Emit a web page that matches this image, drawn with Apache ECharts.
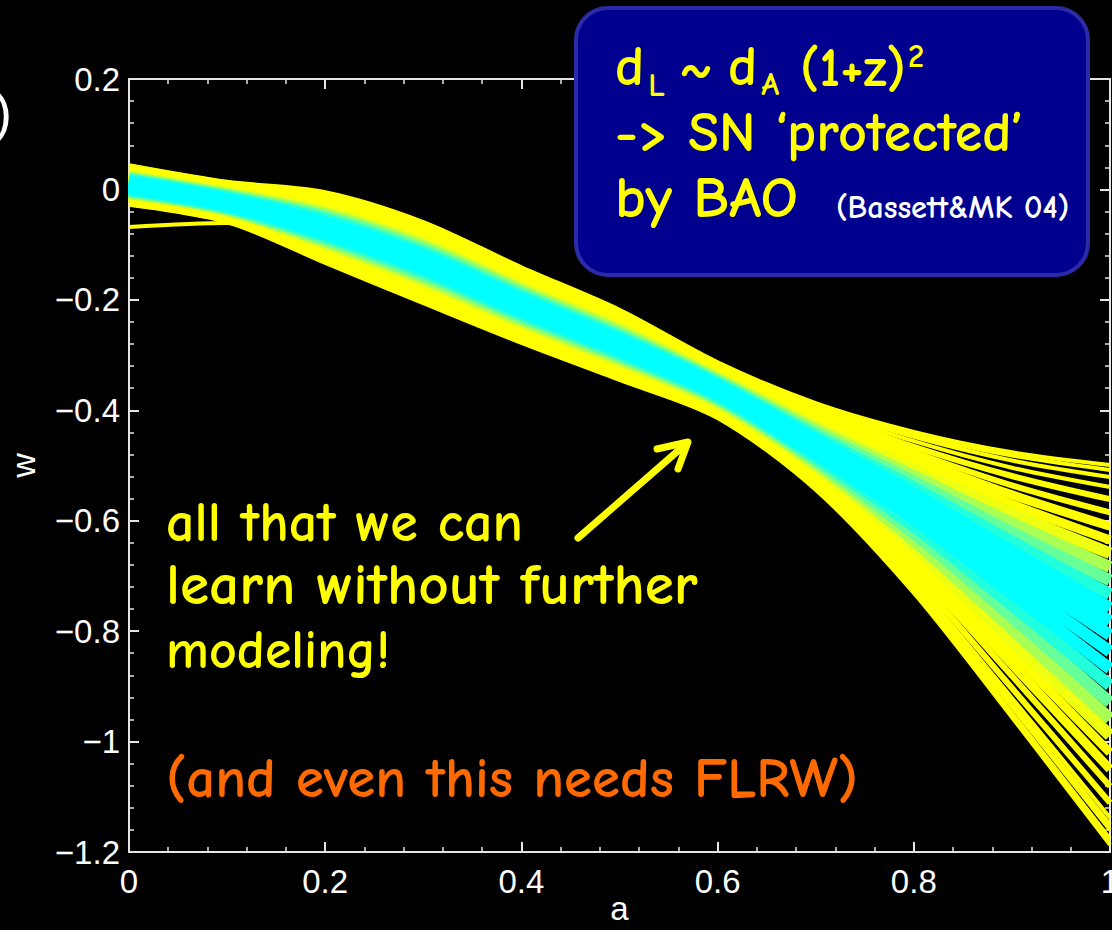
<!DOCTYPE html>
<html>
<head>
<meta charset="utf-8">
<script src="https://cdn.jsdelivr.net/npm/echarts@6/dist/echarts.min.js"></script>
<style>
html,body{margin:0;padding:0;background:#000;overflow:hidden;}
#chart{width:1112px;height:930px;}
</style>
</head>
<body>
<div id="chart"></div>
<script>
// ---------------- data ----------------
const aGrid = [0, 0.1, 0.2, 0.3, 0.4, 0.5, 0.6, 0.7, 0.8, 0.9, 1.0];

// distance of each reconstruction from the best fit (0 = best, 1 = worst) -> colour
const curveRank = [
  1.00, 0.97, 0.93, 0.87, 0.80, 0.72, 0.64, 0.56, 0.48, 0.40, 0.32, 0.24, 0.16, 0.08,
  0.00,
  0.08, 0.16, 0.24, 0.32, 0.40, 0.48, 0.56, 0.64, 0.72, 0.80, 0.87, 0.93, 0.97, 1.00,
  1.00
];

// w(a) of each reconstruction, sampled on aGrid
const wCurves = [
  [ 0.044,  0.014, -0.005, -0.059, -0.141, -0.218, -0.313, -0.387, -0.439, -0.476, -0.499],
  [ 0.043,  0.013, -0.007, -0.061, -0.143, -0.220, -0.315, -0.389, -0.443, -0.482, -0.508],
  [ 0.042,  0.011, -0.010, -0.064, -0.146, -0.223, -0.317, -0.393, -0.448, -0.491, -0.521],
  [ 0.039,  0.009, -0.013, -0.068, -0.150, -0.226, -0.320, -0.397, -0.456, -0.504, -0.539],
  [ 0.037,  0.007, -0.018, -0.073, -0.155, -0.231, -0.323, -0.403, -0.466, -0.519, -0.561],
  [ 0.034,  0.004, -0.023, -0.079, -0.160, -0.236, -0.327, -0.409, -0.476, -0.536, -0.585],
  [ 0.031,  0.001, -0.028, -0.085, -0.166, -0.241, -0.331, -0.415, -0.487, -0.553, -0.610],
  [ 0.028, -0.002, -0.034, -0.091, -0.171, -0.246, -0.335, -0.422, -0.498, -0.570, -0.635],
  [ 0.025, -0.005, -0.039, -0.096, -0.176, -0.251, -0.339, -0.428, -0.508, -0.587, -0.659],
  [ 0.022, -0.008, -0.044, -0.102, -0.182, -0.256, -0.343, -0.434, -0.519, -0.604, -0.684],
  [ 0.020, -0.011, -0.049, -0.108, -0.187, -0.262, -0.347, -0.441, -0.529, -0.621, -0.708],
  [ 0.017, -0.014, -0.054, -0.114, -0.193, -0.267, -0.351, -0.447, -0.540, -0.638, -0.733],
  [ 0.014, -0.017, -0.060, -0.120, -0.198, -0.272, -0.355, -0.453, -0.551, -0.655, -0.758],
  [ 0.011, -0.020, -0.065, -0.125, -0.204, -0.277, -0.359, -0.460, -0.561, -0.672, -0.782],
  [ 0.008, -0.023, -0.070, -0.131, -0.209, -0.282, -0.363, -0.466, -0.572, -0.689, -0.807],
  [ 0.005, -0.026, -0.075, -0.137, -0.215, -0.287, -0.367, -0.472, -0.585, -0.710, -0.837],
  [ 0.002, -0.029, -0.080, -0.143, -0.220, -0.292, -0.371, -0.479, -0.597, -0.732, -0.868],
  [-0.001, -0.032, -0.085, -0.149, -0.226, -0.297, -0.375, -0.485, -0.610, -0.753, -0.898],
  [-0.004, -0.035, -0.090, -0.155, -0.231, -0.302, -0.379, -0.491, -0.623, -0.774, -0.929],
  [-0.006, -0.037, -0.095, -0.161, -0.237, -0.307, -0.383, -0.497, -0.636, -0.796, -0.959],
  [-0.009, -0.040, -0.100, -0.167, -0.242, -0.312, -0.388, -0.503, -0.648, -0.817, -0.989],
  [-0.012, -0.043, -0.105, -0.173, -0.248, -0.317, -0.392, -0.510, -0.661, -0.839, -1.020],
  [-0.015, -0.046, -0.110, -0.179, -0.253, -0.322, -0.396, -0.516, -0.674, -0.860, -1.050],
  [-0.018, -0.049, -0.115, -0.185, -0.259, -0.327, -0.400, -0.522, -0.687, -0.881, -1.081],
  [-0.021, -0.052, -0.120, -0.191, -0.264, -0.332, -0.404, -0.528, -0.699, -0.903, -1.111],
  [-0.023, -0.054, -0.125, -0.196, -0.269, -0.337, -0.407, -0.534, -0.710, -0.921, -1.138],
  [-0.026, -0.057, -0.129, -0.201, -0.273, -0.341, -0.410, -0.539, -0.720, -0.937, -1.160],
  [-0.027, -0.058, -0.131, -0.204, -0.276, -0.343, -0.413, -0.542, -0.726, -0.948, -1.176],
  [-0.028, -0.059, -0.133, -0.206, -0.278, -0.345, -0.414, -0.544, -0.731, -0.956, -1.187],
  [-0.068, -0.061, -0.131, -0.203, -0.276, -0.344, -0.412, -0.538, -0.716, -0.930, -1.150]
];

const xRange = [0, 1];
const yRange = [-1.2, 0.2];
const tickStep = 0.2;

// ---------------- styling helpers ----------------
function colorFor(r) {
  const f = Math.min(1, Math.max(0, (r - 0.2) / 0.3));
  return 'rgb(' + Math.round(255 * f) + ',255,' + Math.round(255 * (1 - f)) + ')';
}
function widthFor(r) {
  return r >= 0.87 ? 4 : r >= 0.72 ? 6 : r >= 0.56 ? 9 : 12;
}
function tickFmt(v) {
  if (Math.abs(v) < 1e-9) return '0';
  return String(Math.round(v * 10) / 10).replace('-', '\u2212');
}

const order = curveRank.map((r, i) => i).sort((p, q) => curveRank[q] - curveRank[p]);
const series = order.map((idx) => ({
  type: 'line',
  xAxisIndex: 0,
  yAxisIndex: 0,
  data: aGrid.map((a, j) => [a, wCurves[idx][j]]),
  showSymbol: false,
  smooth: 0.3,
  silent: true,
  z: 2,
  lineStyle: { color: colorFor(curveRank[idx]), width: widthFor(curveRank[idx]), cap: 'butt' }
}));

// ---------------- text measuring ----------------
const mctx = document.createElement('canvas').getContext('2d');
const COMIC = "'Comic Sans MS','Comic Neue','Open Sans',sans-serif";
const WEIGHT = '600 ';
function textWidth(text, size, family) {
  mctx.font = WEIGHT + size + 'px ' + (family || COMIC);
  return mctx.measureText(text).width;
}
function fitSize(text, target) {
  return 100 * target / textWidth(text, 100);
}
const K = 0.37; // em-middle above baseline
function txt(text, x, baseline, size, color, family) {
  return {
    type: 'text', x: x, y: baseline - K * size, z: 100, silent: true,
    style: { text: text, fill: color, font: WEIGHT + size.toFixed(1) + 'px ' + (family || COMIC),
             textAlign: 'left', textVerticalAlign: 'middle' }
  };
}

const YEL = '#ffff00';
const ORANGE = '#ff6a00';
const graphics = [];

// left cut-off parenthesis (continuation of a title outside the frame)
graphics.push({
  type: 'text', x: 12, y: 112, z: 100, silent: true,
  style: { text: ')', fill: '#ffffff', font: "54px 'Liberation Sans', Arial, sans-serif",
           textAlign: 'right', textVerticalAlign: 'middle' }
});

// info box
graphics.push({
  type: 'rect', z: 90, silent: true,
  shape: { x: 576, y: 8, width: 512, height: 267, r: 32 },
  style: { fill: '#00008f', stroke: '#2b2ba8', lineWidth: 4 }
});

const l2 = '-> SN \u2018protected\u2019';
const s2 = fitSize(l2, 408);
const subS = s2 * 0.58;
let cx = 615;
graphics.push(txt('d', cx, 88, s2, YEL)); cx += textWidth('d', s2) + 4;
graphics.push(txt('L', cx, 98, subS, YEL)); cx += textWidth('L', subS);
cx = Math.max(cx + 10, 679);
graphics.push(txt('~', cx, 88, s2, YEL)); cx += textWidth('~', s2);
cx = Math.max(cx + 10, 728);
graphics.push(txt('d', cx, 88, s2, YEL)); cx += textWidth('d', s2) + 4;
graphics.push(txt('A', cx, 97, subS, YEL)); cx += textWidth('A', subS);
cx = Math.max(cx + 10, 800);
const pSize = fitSize('(1+z)', 106);
graphics.push(txt('(1+z)', cx, 88, pSize, YEL)); cx += textWidth('(1+z)', pSize) + 2;
graphics.push(txt('2', cx, 69, subS, YEL));
graphics.push(txt(l2, 615, 154, s2, YEL));
graphics.push(txt('by BAO', 615, 220, fitSize('by BAO', 183), YEL));
graphics.push(txt('(Bassett&MK 04)', 836, 219, fitSize('(Bassett&MK 04)', 233), '#ffffff'));

// annotations
graphics.push(txt('all that we can', 166, 544, fitSize('all that we can', 357), YEL));
graphics.push(txt('learn without further', 166, 607, fitSize('learn without further', 532), YEL));
graphics.push(txt('modeling!', 166, 670, fitSize('modeling!', 224), YEL));
graphics.push(txt('(and even this needs FLRW)', 166, 800, fitSize('(and even this needs FLRW)', 692), ORANGE));

// arrow
graphics.push({
  type: 'polyline', z: 100, silent: true,
  shape: { points: [[578, 538], [687, 443]] },
  style: { stroke: YEL, lineWidth: 7, lineCap: 'round', fill: null }
});
graphics.push({
  type: 'polyline', z: 100, silent: true,
  shape: { points: [[657, 449], [688, 442], [678, 469]] },
  style: { stroke: YEL, lineWidth: 7, lineCap: 'round', lineJoin: 'round', fill: null }
});

// ---------------- axes ----------------
const AX = '#e4e4e4';
const LABEL_FONT = "'Liberation Sans', Arial, Helvetica, sans-serif";
function axisBase(showLabels) {
  return {
    type: 'value',
    interval: tickStep,
    axisLine: { show: true, onZero: false, lineStyle: { color: AX, width: 2 } },
    axisTick: { show: true, inside: true, length: 10, lineStyle: { color: AX, width: 2 } },
    minorTick: { show: true, splitNumber: 5, length: 5, lineStyle: { color: AX, width: 1.5 } },
    splitLine: { show: false },
    minorSplitLine: { show: false },
    axisLabel: { show: showLabels, color: '#ffffff', fontSize: 33, fontFamily: LABEL_FONT, formatter: tickFmt }
  };
}

const xBottom = Object.assign(axisBase(true), {
  min: xRange[0], max: xRange[1], position: 'bottom',
  name: 'a', nameLocation: 'middle', nameGap: 40, nameMoveOverlap: false,
  nameTextStyle: { color: '#ffffff', fontSize: 33, fontFamily: LABEL_FONT }
});
xBottom.axisLabel.margin = 13;
const xTop = Object.assign(axisBase(false), { min: xRange[0], max: xRange[1], position: 'top' });
const yLeft = Object.assign(axisBase(true), {
  min: yRange[0], max: yRange[1], position: 'left',
  name: 'w', nameLocation: 'middle', nameGap: 89, nameMoveOverlap: false,
  nameTextStyle: { color: '#ffffff', fontSize: 34, fontFamily: LABEL_FONT }
});
yLeft.axisLabel.margin = 9;
const yRight = Object.assign(axisBase(false), { min: yRange[0], max: yRange[1], position: 'right' });

const chart = echarts.init(document.getElementById('chart'), null, { renderer: 'svg', width: 1112, height: 930 });
chart.setOption({
  backgroundColor: '#000000',
  animation: false,
  grid: { left: 129, right: 2, top: 79, bottom: 78, containLabel: false, outerBoundsMode: 'none' },
  xAxis: [xBottom, xTop],
  yAxis: [yLeft, yRight],
  series: series,
  graphic: graphics
});
</script>
</body>
</html>
